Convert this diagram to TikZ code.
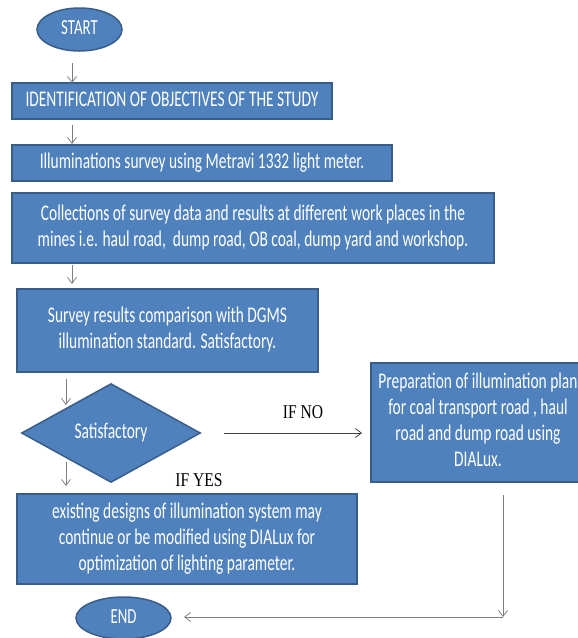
\documentclass[tikz,border=0pt]{standalone}
\usepackage{fontspec}
\setmainfont{Carlito}
\newfontfamily\labfont{Liberation Serif}
\usetikzlibrary{shapes.geometric,arrows.meta}
\definecolor{boxfill}{HTML}{4F81BD}
\definecolor{boxline}{HTML}{385D8A}
\definecolor{arrgray}{HTML}{7F7F7F}
\definecolor{arrdark}{HTML}{404040}
\newcommand{\sqz}[1]{\scalebox{0.69}[1]{\begin{tabular}{@{}c@{}}#1\end{tabular}}}
\newcommand{\lab}[1]{\scalebox{0.8}[1]{#1}}
\begin{document}
\begin{tikzpicture}[x=1pt,y=-1pt,
  proc/.style={rectangle, draw=boxline, line width=1.5pt, fill=boxfill, text=white, inner sep=0pt, font=\fontsize{22.4}{26}\selectfont},
  term/.style={ellipse, draw=boxline, line width=1.5pt, fill=boxfill, text=white, inner sep=0pt, font=\fontsize{21.5}{25}\selectfont},
  dec/.style={diamond, draw=boxline, line width=1.5pt, fill=boxfill, text=white, inner sep=0pt, font=\fontsize{22.4}{26}\selectfont},
  conn/.style={draw=arrgray, line width=0.8pt, -{Straight Barb[length=6pt,width=9pt]}},
  lbl/.style={font=\labfont\fontsize{19.5}{22}\selectfont, text=black, inner sep=0pt}]
\useasboundingbox (0,0) rectangle (578,638);
\node[term, minimum width=85pt, minimum height=43pt] (start) at (79.5,29.5) {\sqz{START}};
\node[proc, minimum width=320pt, minimum height=36pt] (b1) at (172,101) {\sqz{IDENTIFICATION OF OBJECTIVES OF THE STUDY}};
\node[proc, minimum width=380pt, minimum height=36pt] (b2) at (202,163) {\sqz{Illuminations survey using Metravi 1332 light meter.}};
\node[proc, minimum width=482pt, minimum height=70pt] (b3) at (253,228) {\sqz{Collections of survey data and results at different work places in the\\mines i.e. haul road,\ \ dump road, OB coal, dump yard and workshop.}};
\node[proc, minimum width=301pt, minimum height=83pt] (b4) at (167.5,330.5) {\sqz{Survey results comparison with DGMS\\illumination standard. Satisfactory.}};
\node[dec, minimum width=179pt, minimum height=70pt] (dia) at (111,433) {\sqz{Satisfactory}};
\node[proc, minimum width=214pt, minimum height=119pt] (b6) at (478,422.5) {\sqz{Preparation of illumination plan\\for coal transport road , haul\\road and dump road using\\DIALux.}};
\node[proc, minimum width=340pt, minimum height=90pt] (b5) at (187,539) {\sqz{existing designs of illumination system may\\continue or be modified using DIALux for\\optimization of lighting parameter.}};
\node[term, minimum width=95pt, minimum height=42pt] (end) at (123.5,618) {\sqz{END}};
\node[lbl] (lno) at (303,412) {\lab{IF NO}};
\node[lbl] (lyes) at (199,480) {\lab{IF YES}};
\coordinate (a1s) at (72,63); \coordinate (a1e) at (72,83);
\coordinate (a2s) at (72,125); \coordinate (a2e) at (72,144);
\coordinate (a3s) at (72,265); \coordinate (a3e) at (72,284);
\coordinate (a4s) at (66,379); \coordinate (a4e) at (66,405);
\coordinate (a5s) at (66,462); \coordinate (a5e) at (66,486);
\coordinate (nos) at (224,433); \coordinate (noe) at (362,433);
\coordinate (r1s) at (503,495); \coordinate (rc) at (503,617);
\coordinate (r2e) at (184,617);
\draw[conn] (a1s) -- (a1e);
\draw[conn] (a2s) -- (a2e);
\draw[conn] (a3s) -- (a3e);
\draw[conn] (a4s) -- (a4e);
\draw[conn] (a5s) -- (a5e);
\draw[conn, draw=arrdark] (nos) -- (noe);
\draw[conn] (r1s) -- (rc);
\draw[conn] (rc) -- (r2e);
\end{tikzpicture}
\end{document}
